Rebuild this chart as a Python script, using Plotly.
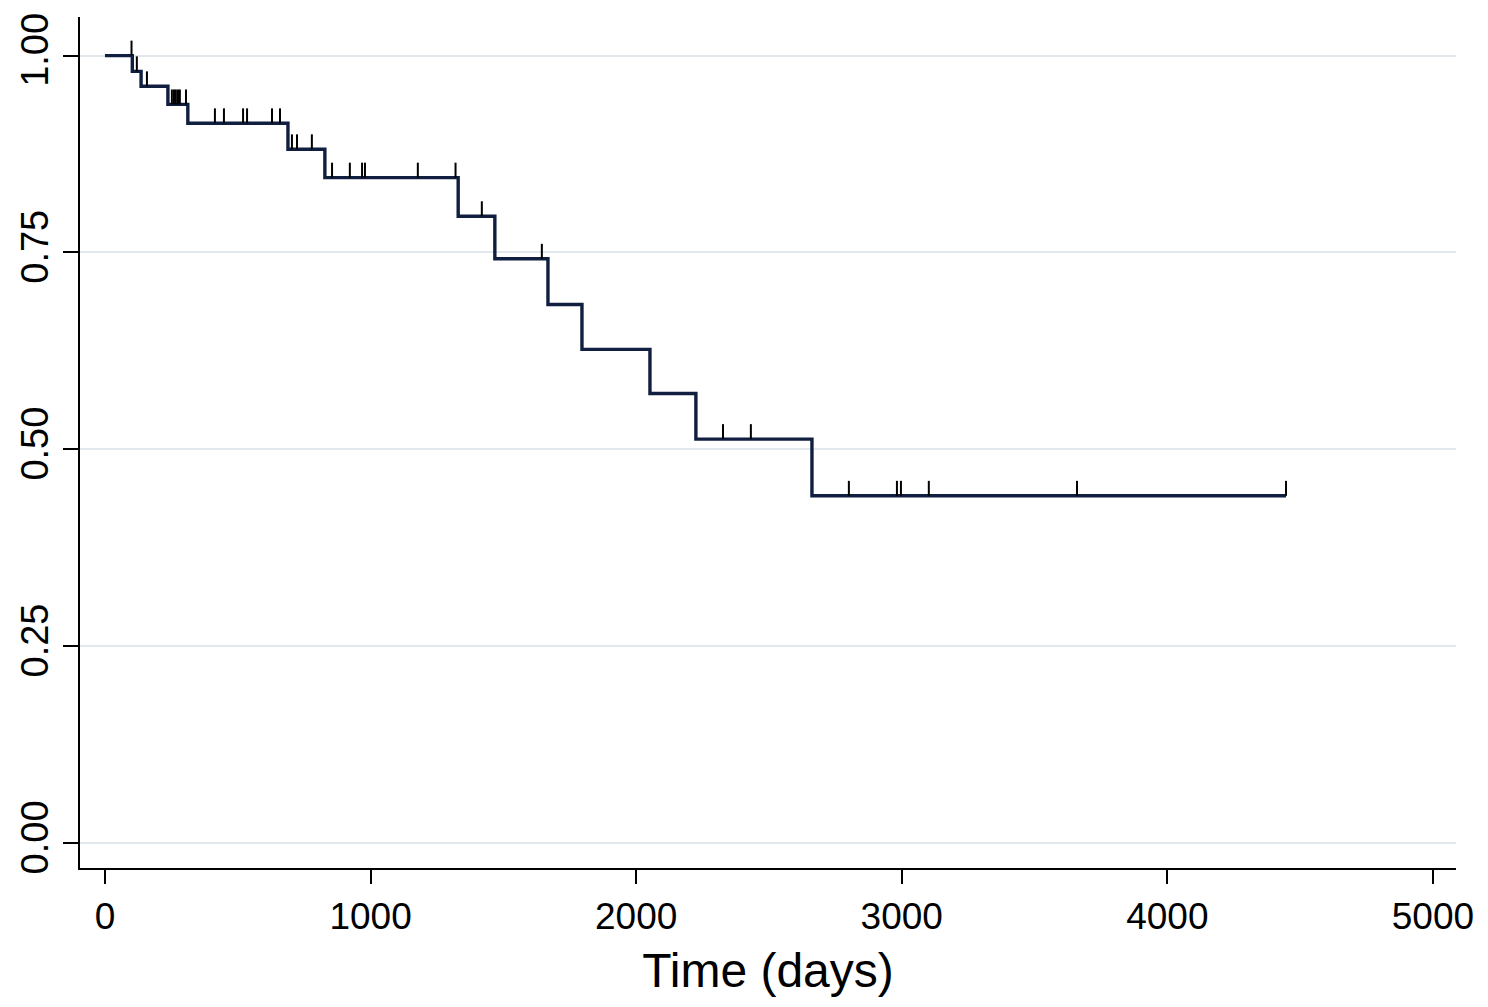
import plotly.graph_objects as go

# Kaplan-Meier estimate
event_times = [103, 136, 237, 312, 689, 828, 1330, 1468, 1668, 1796, 2052, 2225, 2662]
survival = [0.980, 0.961, 0.938, 0.914, 0.881, 0.845, 0.796, 0.742, 0.684, 0.627, 0.571, 0.513, 0.441]
last_time = 4447

censor_times = [100, 120, 158, 252, 260, 267, 275, 282, 305,
                414, 448, 520, 535, 629, 659,
                704, 723, 779,
                855, 922, 968, 979, 1178, 1320,
                1419, 1645, 2327, 2432,
                2801, 2982, 2997, 3102, 3660, 4447]

x_ticks = [0, 1000, 2000, 3000, 4000, 5000]
y_ticks = [0.00, 0.25, 0.50, 0.75, 1.00]


def surv_at(t):
    s = 1.0
    for et, sv in zip(event_times, survival):
        if et <= t:
            s = sv
    return s


step_x = [0] + event_times + [last_time]
step_y = [1.0] + survival + [survival[-1]]
censor_y = [surv_at(t) for t in censor_times]

FONT = "Liberation Sans, Arial, sans-serif"

fig = go.Figure()
fig.add_trace(go.Scatter(
    x=step_x, y=step_y, mode="lines", line_shape="hv",
    line=dict(color="#101f40", width=3.4), showlegend=False, hoverinfo="skip"))
fig.add_trace(go.Scatter(
    x=censor_times, y=censor_y, mode="markers",
    marker=dict(size=1, color="rgba(0,0,0,0)"),
    error_y=dict(type="constant", value=0.019, symmetric=False, valueminus=0,
                 color="black", thickness=2, width=0),
    showlegend=False, hoverinfo="skip"))

fig.update_layout(
    width=1488, height=1007,
    margin=dict(l=72, r=40, t=5, b=147),
    paper_bgcolor="white", plot_bgcolor="white",
    font=dict(family=FONT, color="black", size=36),
    xaxis=dict(range=[-94, 5087], tickvals=x_ticks, ticks="outside", ticklen=14,
               tickwidth=2, tickcolor="black", showline=True, linecolor="black",
               linewidth=2, showgrid=False, zeroline=False,
               ticklabelstandoff=1,
               tickfont=dict(size=37, family=FONT),
               title=dict(text="Time (days)", font=dict(size=48, family=FONT), standoff=17)),
    yaxis=dict(range=[-0.0316, 1.049], tickvals=y_ticks, tickformat=".2f",
               tickangle=-90, ticks="outside", ticklen=15, tickwidth=2,
               tickcolor="black", showline=True, linecolor="black", linewidth=2,
               showgrid=True, gridcolor="#e3e8ec", gridwidth=2, zeroline=False,
               tickfont=dict(size=38, family=FONT)),
)
fig.write_html("out.html")
